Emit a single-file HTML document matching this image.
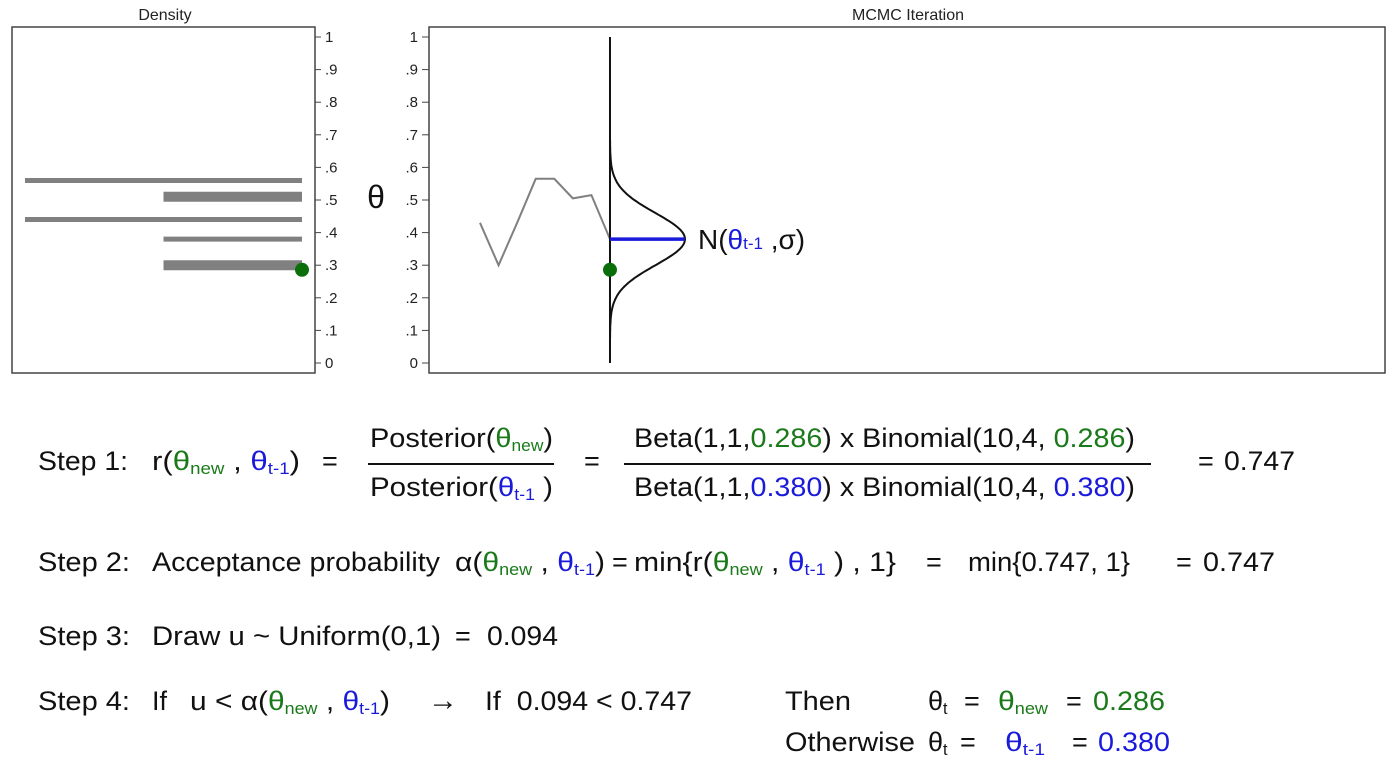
<!DOCTYPE html>
<html><head><meta charset="utf-8">
<style>
html,body{margin:0;padding:0;background:#fff;}
body{width:1396px;height:767px;position:relative;overflow:hidden;font-family:"Liberation Sans",sans-serif;color:#111;}
svg{position:absolute;left:0;top:0;}
.t{position:absolute;font-size:27px;white-space:nowrap;line-height:1;transform-origin:0 50%;}
.g{color:#1a7a1a;} .b{color:#1a1adb;}
sub{font-size:60%;vertical-align:-0.25em;}
.bar{position:absolute;height:2px;background:#111;}
</style></head><body>
<svg id="chart" width="1396" height="390"></svg>

<div>
<div class="t" data-fit="90" style="left:38px;top:448px">Step 1:</div>
<div class="t" data-fit="148" style="left:152px;top:448px">r(<span class="g">θ<sub>new</sub></span> , <span class="b">θ<sub>t-1</sub></span>)</div>
<div class="t" style="left:322px;top:448px">=</div>
<div class="t" data-fit="183" style="left:370px;top:425px">Posterior(<span class="g">θ<sub>new</sub></span>)</div>
<div class="bar" style="left:368px;top:463px;width:186px"></div>
<div class="t" data-fit="183" style="left:370px;top:474px">Posterior(<span class="b">θ<sub>t-1</sub></span> )</div>
<div class="t" style="left:584px;top:448px">=</div>
<div class="t" data-fit="501" style="left:634px;top:425px">Beta(1,1,<span class="g">0.286</span>) x Binomial(10,4, <span class="g">0.286</span>)</div>
<div class="bar" style="left:624px;top:463px;width:527px"></div>
<div class="t" data-fit="501" style="left:634px;top:474px">Beta(1,1,<span class="b">0.380</span>) x Binomial(10,4, <span class="b">0.380</span>)</div>
<div class="t" style="left:1198px;top:448px">=</div>
<div class="t" data-fit="71" style="left:1224px;top:448px">0.747</div>
</div>

<div>
<div class="t" data-fit="92" style="left:38px;top:549px">Step 2:</div>
<div class="t" data-fit="288" style="left:152px;top:549px">Acceptance probability</div>
<div class="t" data-fit="150" style="left:455px;top:549px">α(<span class="g">θ<sub>new</sub></span> , <span class="b">θ<sub>t-1</sub></span>)</div>
<div class="t" style="left:612px;top:549px">=</div>
<div class="t" data-fit="262" style="left:634px;top:549px">min{r(<span class="g">θ<sub>new</sub></span> , <span class="b">θ<sub>t-1</sub></span> ) , 1}</div>
<div class="t" style="left:926px;top:549px">=</div>
<div class="t" data-fit="162" style="left:968px;top:549px">min{0.747, 1}</div>
<div class="t" style="left:1176px;top:549px">=</div>
<div class="t" data-fit="72" style="left:1203px;top:549px">0.747</div>
</div>

<div>
<div class="t" data-fit="92" style="left:38px;top:623px">Step 3:</div>
<div class="t" data-fit="289" style="left:152px;top:623px">Draw u ~ Uniform(0,1)</div>
<div class="t" style="left:455px;top:623px">=</div>
<div class="t" data-fit="71" style="left:487px;top:623px">0.094</div>
</div>

<div>
<div class="t" data-fit="92" style="left:38px;top:688px">Step 4:</div>
<div class="t" style="left:152px;top:688px">If</div>
<div class="t" data-fit="200" style="left:190px;top:688px">u &lt; α(<span class="g">θ<sub>new</sub></span> , <span class="b">θ<sub>t-1</sub></span>)</div>
<div class="t" style="left:428px;top:686px;font-size:30px">→</div>
<div class="t" data-fit="207" style="left:485px;top:688px">If&nbsp; 0.094 &lt; 0.747</div>
<div class="t" data-fit="66" style="left:785px;top:688px">Then</div>
<div class="t" style="left:928px;top:688px">θ<sub>t</sub></div>
<div class="t" style="left:964px;top:688px">=</div>
<div class="t g" data-fit="50" style="left:998px;top:688px">θ<sub>new</sub></div>
<div class="t" style="left:1066px;top:688px">=</div>
<div class="t g" data-fit="72" style="left:1093px;top:688px">0.286</div>
<div class="t" data-fit="130" style="left:785px;top:729px">Otherwise</div>
<div class="t" style="left:928px;top:729px">θ<sub>t</sub></div>
<div class="t" style="left:960px;top:729px">=</div>
<div class="t b" data-fit="40" style="left:1005px;top:729px">θ<sub>t-1</sub></div>
<div class="t" style="left:1072px;top:729px">=</div>
<div class="t b" data-fit="72" style="left:1098px;top:729px">0.380</div>
</div>

<script>
// ---- chart data ----
const yTicks = [0, 0.1, 0.2, 0.3, 0.4, 0.5, 0.6, 0.7, 0.8, 0.9, 1];
const yTickLabels = ["0", ".1", ".2", ".3", ".4", ".5", ".6", ".7", ".8", ".9", "1"];
const densityTheta = [0.56, 0.51, 0.44, 0.38, 0.30];
const densityValue = [1, 0.5, 1, 0.5, 0.5];
const densityWeight = [1, 2, 1, 1, 2];
const iterations = [1, 2, 3, 4, 5, 6, 7, 8];
const traceTheta = [0.43, 0.30, 0.43, 0.565, 0.565, 0.505, 0.515, 0.38];
const currentTheta = 0.38;
const proposalTheta = 0.286;
const proposalSigma = 0.08;

const NS = "http://www.w3.org/2000/svg";
const svg = document.getElementById("chart");
function mk(tag, attrs, parent) {
  const e = document.createElementNS(NS, tag);
  for (const k in attrs) e.setAttribute(k, attrs[k]);
  (parent || svg).appendChild(e);
  return e;
}
const yScale = v => 363 - v * 326;
const densX = d => 302 - d * 277;
const iterX = i => 480 + (i - 1) * 18.57;

let e;
e = mk("rect", {x: 12, y: 27, width: 303, height: 346, fill: "none", stroke: "#444", "stroke-width": 1.5});


e = mk("rect", {x: 429, y: 27, width: 956, height: 346, fill: "none", stroke: "#444", "stroke-width": 1.5});



e = mk("text", {x: 165, y: 20, "text-anchor": "middle", "font-size": 16, fill: "#222", "font-family": "Liberation Sans, sans-serif"});
e.textContent = "Density";


e = mk("text", {x: 908, y: 20, "text-anchor": "middle", "font-size": 16, fill: "#222", "font-family": "Liberation Sans, sans-serif"});
e.textContent = "MCMC Iteration";


e = mk("text", {x: 376, y: 208, "text-anchor": "middle", "font-size": 32, fill: "#111", "font-family": "Liberation Sans, sans-serif"});
e.textContent = "θ";



yTicks.forEach((v, i) => {
  const y = yScale(v);
  let t = mk("line", {x1: 315, x2: 321, y1: y, y2: y, stroke: "#444", "stroke-width": 1});
  
  
  let l = mk("text", {x: 325, y: y + 5, "font-size": 15, fill: "#222", "font-family": "Liberation Sans, sans-serif"});
  l.textContent = yTickLabels[i];
  
  
  t = mk("line", {x1: 422, x2: 429, y1: y, y2: y, stroke: "#444", "stroke-width": 1});
  
  
  l = mk("text", {x: 418, y: y + 5, "text-anchor": "end", "font-size": 15, fill: "#222", "font-family": "Liberation Sans, sans-serif"});
  l.textContent = yTickLabels[i];
  
  
});

densityTheta.forEach((th, i) => {
  const b = mk("line", {x1: densX(densityValue[i]), x2: densX(0), y1: yScale(th), y2: yScale(th),
    stroke: "#808080", "stroke-width": densityWeight[i] * 5});
  
  
});
e = mk("circle", {cx: densX(0), cy: yScale(proposalTheta), r: 7, fill: "#0a6e0a"});



const lastX = iterX(iterations[iterations.length - 1]);
e = mk("polyline", {points: iterations.map((it, i) => iterX(it) + "," + yScale(traceTheta[i])).join(" "),
  fill: "none", stroke: "#808080", "stroke-width": 2});


e = mk("line", {x1: lastX, x2: lastX, y1: yScale(1), y2: yScale(0), stroke: "#111", "stroke-width": 2});



const pts = [];
for (let v = 0.05; v <= 0.7001; v += 0.005) {
  const d = Math.exp(-Math.pow(v - currentTheta, 2) / (2 * proposalSigma * proposalSigma));
  pts.push((lastX + d * 75).toFixed(1) + "," + yScale(v).toFixed(1));
}
e = mk("polyline", {points: pts.join(" "), fill: "none", stroke: "#111", "stroke-width": 2});


e = mk("line", {x1: lastX, x2: lastX + 75, y1: yScale(currentTheta), y2: yScale(currentTheta), stroke: "#1a1adb", "stroke-width": 3.5});


e = mk("circle", {cx: lastX, cy: yScale(proposalTheta), r: 7, fill: "#0a6e0a"});



const lab = mk("text", {x: 698, y: yScale(currentTheta) + 10, "font-size": 28, fill: "#111", "font-family": "Liberation Sans, sans-serif"});


const s1 = mk("tspan", {}, lab); s1.textContent = "N(";
const s2 = mk("tspan", {fill: "#1a1adb"}, lab); s2.textContent = "θ";
const s3 = mk("tspan", {fill: "#1a1adb", "font-size": 17}, lab); s3.textContent = "t-1";
const s4 = mk("tspan", {}, lab); s4.textContent = " ,σ)";

document.querySelectorAll("[data-fit]").forEach(el => {
  const target = +el.getAttribute("data-fit");
  const w = el.getBoundingClientRect().width;
  if (w > 0) el.style.transform = "scaleX(" + (target / w) + ")";
});
</script>
</body></html>
